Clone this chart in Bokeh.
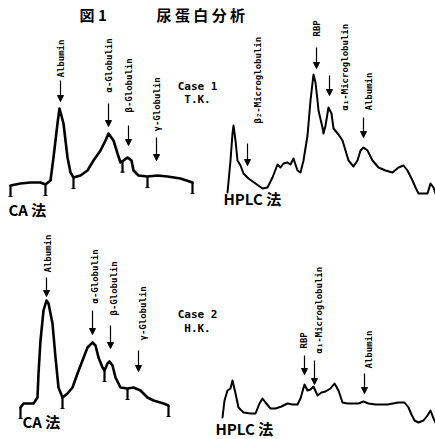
import numpy as np
from bokeh.plotting import figure
from bokeh.models import Range1d, ColumnDataSource, Arrow, NormalHead
from bokeh.core.properties import value
from bokeh.embed import file_html
from bokeh.resources import INLINE

# ---------------- data (figure-pixel units) -------------
# Case 1, CA (cellulose acetate) densitogram
ca1_pos = [10, 20, 30, 40, 45, 50, 53, 57, 59, 63, 67, 70, 73, 80, 87, 93, 100, 105, 108,
           113, 117, 120, 123, 127, 131, 133, 138, 147, 157, 167, 180, 192]
ca1_lvl = [185, 183, 182, 182, 184, 180, 157, 123, 108, 123, 157, 172, 177, 175, 170, 160, 150,
           140, 133, 140, 153, 162, 160, 157, 160, 170, 175, 176, 175, 176, 178, 182]
ca1_ticks = [10, 45, 73, 122, 147, 192]
ca1_names = ["Albumin", "α-Globulin", "β-Globulin", "γ-Globulin"]

# Case 1, HPLC chromatogram
hp1_pos = [227, 230, 232, 233, 235, 237, 240, 243, 248, 255, 262, 267, 272, 277, 280, 283, 287,
           290, 293, 297, 300, 303, 307, 310, 313, 315, 317, 318, 322, 323, 325, 328, 331, 333,
           338, 342, 345, 348, 353, 357, 360, 363, 367, 372, 378, 385, 392, 398, 403, 407, 412,
           415, 418, 423, 427, 430, 433, 435]
hp1_lvl = [192, 160, 133, 125, 140, 160, 165, 173, 178, 183, 188, 187, 177, 164, 167, 163, 162,
           164, 158, 170, 172, 160, 135, 100, 74, 82, 100, 110, 127, 133, 125, 107, 113, 128,
           134, 140, 150, 160, 166, 160, 150, 147, 150, 160, 167, 170, 172, 167, 165, 170, 180,
           187, 193, 193, 193, 183, 187, 193]
hp1_names = ["β₂-Microglobulin", "RBP", "α₁-Microglobulin", "Albumin"]

# Case 2, CA densitogram
ca2_pos = [20, 23, 33, 37, 38, 40, 43, 46, 48, 52, 55, 58, 62, 67, 72, 77, 82, 87, 92, 95, 98,
           102, 104, 107, 109, 112, 115, 120, 127, 133, 140, 147, 153, 163, 168]
ca2_lvl = [407, 403, 403, 397, 373, 340, 310, 300, 303, 323, 357, 387, 397, 393, 387, 373, 360,
           347, 342, 345, 357, 367, 370, 363, 361, 365, 377, 387, 388, 387, 390, 397, 400, 403,
           405]
ca2_ticks = [20, 62, 104, 127, 168]
ca2_names = ["Albumin", "α-Globulin", "β-Globulin", "γ-Globulin"]

# Case 2, HPLC chromatogram
hp2_pos = [222, 224, 227, 230, 232, 235, 238, 243, 250, 255, 259, 262, 265, 270, 275, 281, 287,
           292, 297, 300, 304, 307, 310, 313, 317, 321, 325, 330, 334, 338, 342, 347, 353, 358,
           363, 368, 375, 387, 398, 404, 408, 411, 414, 418, 423, 427, 430, 433, 435]
hp2_lvl = [417, 400, 390, 388, 380, 393, 407, 412, 413, 413, 403, 398, 402, 408, 408, 406, 403,
           404, 404, 398, 384, 390, 389, 386, 395, 392, 391, 388, 383, 390, 402, 403, 403, 403,
           401, 403, 404, 404, 402, 402, 407, 414, 420, 422, 420, 415, 410, 418, 422]
hp2_names = ["RBP", "α₁-Microglobulin", "Albumin"]

# ---------------- layout of the annotations ----------------
# label column x, bottom of the vertical text, arrow x, arrow top, arrow tip
ca1_lab = dict(x=[60, 108, 128, 156], yb=[77, 92, 112, 131],
               ax=[60, 108, 128, 156], a0=[80, 103, 125, 137], a1=[101, 126, 145, 160])
hp1_lab = dict(x=[257, 316, 344, 368], yb=[123, 36, 110, 110],
               ax=[247, 316, 329, 363], a0=[143, 47, 75, 117], a1=[165, 68, 95, 137])
ca2_lab = dict(x=[47, 94, 113, 142], yb=[272, 303, 315, 340],
               ax=[46, 92, 110, 138], a0=[277, 310, 325, 350], a1=[296, 334, 348, 371])
hp2_lab = dict(x=[303, 318, 368], yb=[348, 353, 368],
               ax=[304, 314, 364], a0=[355, 360, 373], a1=[374, 384, 393])

p = figure(width=435, height=439, x_range=Range1d(0, 435), y_range=Range1d(439, 0),
           output_backend="svg", toolbar_location=None, min_border=0,
           x_axis_location=None, y_axis_location=None)
p.grid.visible = False
p.outline_line_color = None
p.background_fill_color = "white"

MONO = value("DejaVu Sans Mono")
CJK = value("Noto Sans CJK JP")


def draw_trace(pos, lvl, width):
    p.line(pos, lvl, line_color="black", line_width=width, line_join="round", line_cap="round")


def draw_ticks(ticks, pos, lvl):
    top = np.interp(ticks, pos, lvl)
    p.segment(x0=ticks, y0=top, x1=ticks, y1=top + 11, line_color="black", line_width=2.2)
    p.segment(x0=np.array(ticks) - 2, y0=top + 11, x1=np.array(ticks) + 2, y1=top + 11,
              line_color="black", line_width=1.2)


def draw_labels(names, lab):
    p.text(x=lab["x"], y=lab["yb"], text=names, angle=np.pi / 2, text_align="left",
           text_baseline="middle", text_font=MONO, text_font_style="bold",
           text_font_size="9px", text_color="black")
    src = ColumnDataSource(dict(x=lab["ax"], y0=lab["a0"], y1=lab["a1"]))
    p.add_layout(Arrow(end=NormalHead(size=6, fill_color="black", line_color="black"),
                       x_start="x", y_start="y0", x_end="x", y_end="y1", source=src,
                       line_color="black", line_width=1.2))


draw_trace(ca1_pos, ca1_lvl, 2.6)
draw_ticks(ca1_ticks, ca1_pos, ca1_lvl)
draw_labels(ca1_names, ca1_lab)

draw_trace(hp1_pos, hp1_lvl, 2.0)
draw_labels(hp1_names, hp1_lab)

draw_trace(ca2_pos, ca2_lvl, 2.6)
draw_ticks(ca2_ticks, ca2_pos, ca2_lvl)
draw_labels(ca2_names, ca2_lab)

draw_trace(hp2_pos, hp2_lvl, 2.0)
draw_labels(hp2_names, hp2_lab)

# title
p.text(x=[79, 156], y=[14, 14], text=["図 1", "尿 蛋 白 分 析"], text_align="left",
       text_baseline="middle", text_font=CJK, text_font_style="bold", text_font_size="15px",
       text_color="black")

# case identifiers
p.text(x=[197, 197, 197, 197], y=[86, 99, 314, 328], text=["Case 1", "T.K.", "Case 2", "H.K."],
       text_align="center", text_baseline="middle", text_font=MONO, text_font_style="bold",
       text_font_size="11px", text_color="black")

# method labels
p.text(x=[8, 223, 22, 215], y=[209, 198, 421, 428], text=["CA 法", "HPLC 法", "CA 法", "HPLC 法"],
       text_align="left", text_baseline="middle", text_font=CJK, text_font_style="bold",
       text_font_size="15px", text_color="black")

open("out.html", "w").write(file_html(p, INLINE))
